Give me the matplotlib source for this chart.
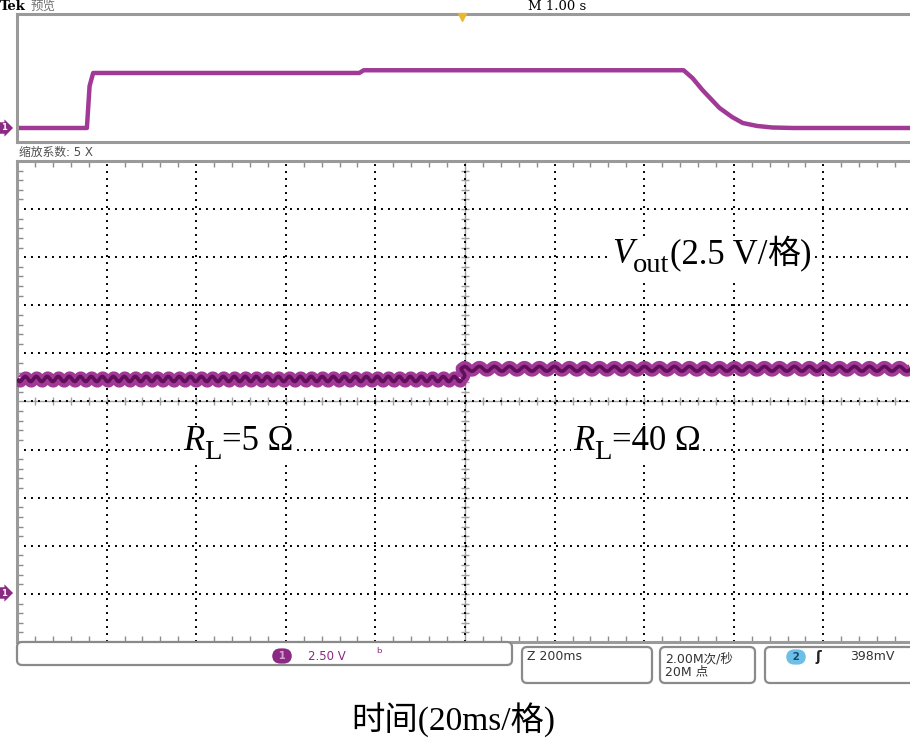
import numpy as np
import matplotlib
matplotlib.use('Agg')
import matplotlib.pyplot as plt
from matplotlib.patches import FancyBboxPatch, Rectangle
from matplotlib.ticker import MultipleLocator

W, H = 910, 749

# ---------------- data ----------------
# overview strip (M 1.00 s/div), volts
overview_t_s = [0.0, 0.78, 0.81, 0.85, 3.82, 3.87, 7.44, 7.54, 7.65, 7.84,
                7.98, 8.10, 8.26, 8.43, 8.66, 10.0]
overview_v = [0.0, 0.0, 8.5, 11.15, 11.15, 11.7, 11.7, 10.1, 7.7, 4.06,
              2.23, 1.01, 0.41, 0.1, 0.0, 0.0]
# zoomed window (20 ms/div), volts
zoom_left_t_ms = [0.0, 99.3]
zoom_left_v = [11.15, 11.15]
zoom_right_t_ms = [99.3, 99.6, 200.0]
zoom_right_v = [11.15, 11.7, 11.7]

volts_per_div = 2.5
ms_per_div = 20
s_per_div = 1.0
n_div = 10
center_v = 10.0

header_tek = 'Tek'
header_mode = '预览'
header_m = 'M 1.00 s'
zoom_factor = '缩放系数: 5 X'
ch1_scale = '2.50 V'
zoom_time = 'Z 200ms'
rate_text = '2.00M次/秒\n20M 点'
trig_text = '398mV'
xlabel = '时间(20ms/格)'

# ---------------- figure ----------------
fig = plt.figure(figsize=(W / 100, H / 100), dpi=100)

def rect(x0, y0, x1, y1):
    return [x0 / W, 1 - y1 / H, (x1 - x0) / W, (y1 - y0) / H]

GRID_C = '#8c8c8c'
TRACE_C = '#a13a96'
TRACE_DARK = '#620f5b'
SERIF = 'Liberation Serif'
CJK = 'Noto Sans CJK SC'
sans = ['DejaVu Sans', CJK]
serif = [SERIF, CJK]

# ---- overview strip ----
ax_top = fig.add_axes(rect(17, 14, 913, 142))
ax_top.set_xlim(0, n_div * s_per_div)
ax_top.set_ylim(-2.84, 23.1)
ax_top.plot(overview_t_s, overview_v, color=TRACE_C, lw=3.2,
            solid_joinstyle='round', solid_capstyle='butt')
for s in ['left', 'top', 'bottom']:
    ax_top.spines[s].set_color('#9a9a9a')
    ax_top.spines[s].set_linewidth(2.2)
ax_top.spines['right'].set_visible(False)
ax_top.set_xticks([])
ax_top.set_yticks([])
ax_top.plot([5.0 * s_per_div - 0.03], [22.4], marker='v', ms=6,
            color='#e8b830', clip_on=False, zorder=5)

# ---- main graticule ----
ax = fig.add_axes(rect(17, 161, 913, 642))
ax.set_xlim(0, n_div * ms_per_div)
ax.set_ylim(center_v - 5 * volts_per_div, center_v + 5 * volts_per_div)
ax.xaxis.set_major_locator(MultipleLocator(ms_per_div))
ax.yaxis.set_major_locator(MultipleLocator(volts_per_div))
ax.xaxis.set_minor_locator(MultipleLocator(ms_per_div / 5))
ax.yaxis.set_minor_locator(MultipleLocator(volts_per_div / 5))
ax.grid(True, which='major', color='black', lw=1.4, ls=(0, (1, 2.6)))
ax.tick_params(which='both', direction='in', labelleft=False,
               labelbottom=False, left=True, top=True, bottom=True,
               right=False, color=GRID_C)
ax.tick_params(which='major', length=0)
ax.tick_params(which='minor', length=4, width=1)
for s in ['left', 'top', 'bottom']:
    ax.spines[s].set_color('#9a9a9a')
    ax.spines[s].set_linewidth(2.2)
ax.spines['right'].set_visible(False)

# center cross with minor ticks
xc = n_div * ms_per_div / 2
ax.axhline(center_v, color='#a0a0a0', lw=1.0, zorder=1)
ax.axvline(xc, color='#a0a0a0', lw=1.0, zorder=1)
mx = np.arange(0, n_div * ms_per_div + 0.1, ms_per_div / 5)
my = np.arange(center_v - 5 * volts_per_div, center_v + 5 * volts_per_div + 0.01,
               volts_per_div / 5)
ax.plot(mx, np.full_like(mx, center_v), ls='', marker='|', ms=6,
        color='#a0a0a0', mew=1, zorder=1)
ax.plot(np.full_like(my, xc), my, ls='', marker='_', ms=6,
        color='#a0a0a0', mew=1, zorder=1)

# trace with ripple (sketch style)
for tt, vv, per, amp in [(zoom_left_t_ms, zoom_left_v, 11, 2.6),
                         (zoom_right_t_ms, zoom_right_v, 15, 2.4)]:
    l1, = ax.plot(tt, vv, color=TRACE_C, lw=8.0, zorder=3,
                  solid_capstyle='butt')
    l1.set_sketch_params(scale=amp, length=per, randomness=1.0)
    l2, = ax.plot(tt, vv, color=TRACE_DARK, lw=2.6, zorder=4,
                  solid_capstyle='butt')
    l2.set_sketch_params(scale=amp, length=per, randomness=1.0)

# ---- overlay in pixel coords ----
ov = fig.add_axes([0, 0, 1, 1], zorder=10)
ov.set_xlim(0, W)
ov.set_ylim(H, 0)
ov.axis('off')
ov.patch.set_alpha(0)

renderer = fig.canvas.get_renderer()


def rich(x, y, parts, size):
    """parts: (text, scale, style, dy, family)"""
    cur = x
    boxes = []
    for s, sc, style, dy, fam in parts:
        t = ov.text(cur, y + dy, s, fontsize=size * sc, style=style,
                    family=fam, ha='left', va='baseline', zorder=12)
        bb = t.get_window_extent(renderer=renderer)
        boxes.append(bb)
        cur += bb.width
    x0 = min(b.x0 for b in boxes)
    x1 = max(b.x1 for b in boxes)
    y0 = H - max(b.y1 for b in boxes)
    y1 = H - min(b.y0 for b in boxes)
    ov.add_patch(Rectangle((x0 - 2, y0), x1 - x0 + 4, y1 - y0, fc='white',
                           ec='none', zorder=11))


# header
ov.text(0, 6, header_tek, fontsize=9.5, fontweight='bold', ha='left',
        va='center', family='DejaVu Serif')
ov.text(31, 6, header_mode, fontsize=9, color='#707070', ha='left',
        va='center', family=sans)
ov.text(557, 6, header_m, fontsize=9.5, ha='center', va='center',
        family='DejaVu Serif')

# zoom factor band
ov.text(19, 152, zoom_factor, fontsize=8.5, color='#505050', ha='left',
        va='center', family=sans)

# ground markers
for yy in [128, 593]:
    ov.text(4, yy, '1', fontsize=6, color='white', ha='center', va='center',
            fontweight='bold',
            bbox=dict(boxstyle='rarrow,pad=0.15', fc='#8a2a82', ec='none'))

# annotations
FS = 25
rich(612, 263, [('V', 1, 'italic', 0, SERIF),
                ('out', 0.82, 'normal', 9, SERIF),
                ('(2.5 V/', 1, 'normal', 0, SERIF),
                ('格', 0.95, 'normal', 0, CJK),
                (')', 1, 'normal', 0, SERIF)], FS)
rich(183, 450, [('R', 1, 'italic', 0, SERIF),
                ('L', 0.82, 'normal', 9, SERIF),
                ('=5 Ω', 1, 'normal', 0, SERIF)], FS)
rich(573, 450, [('R', 1, 'italic', 0, SERIF),
                ('L', 0.82, 'normal', 9, SERIF),
                ('=40 Ω', 1, 'normal', 0, SERIF)], FS)

# status boxes
def box(x0, y0, x1, y1):
    p = FancyBboxPatch((x0, y0), x1 - x0, y1 - y0,
                       boxstyle='round,pad=0,rounding_size=5',
                       fc='white', ec='#8a8a8a', lw=1.6, zorder=1)
    ov.add_patch(p)

box(17, 642, 512, 665)
box(522, 647, 652, 683)
box(660, 647, 755, 683)
box(765, 647, 925, 683)

ov.text(282, 656, ' 1 ', fontsize=7.5, color='#d9a0d6', ha='center',
        va='center', fontweight='bold',
        bbox=dict(boxstyle='round,pad=0.25,rounding_size=0.8', fc='#8a2a82',
                  ec='none'))
ov.text(308, 656, ch1_scale, fontsize=8.5, color='#8a2a82', ha='left',
        va='center', family=sans)
ov.text(376, 654, 'ᵇ', fontsize=10, color='#8a2a82', ha='left',
        va='center', family=sans)
ov.text(527, 657, zoom_time, fontsize=9, color='#333333', ha='left',
        va='center', family=sans)
ov.text(665, 665, rate_text, fontsize=9, color='#333333', ha='left',
        va='center', family=sans, linespacing=1.0)
ov.text(796, 657, ' 2 ', fontsize=7.5, color='#1a4a70', ha='center',
        va='center', fontweight='bold',
        bbox=dict(boxstyle='round,pad=0.25,rounding_size=0.8', fc='#6cc0e6',
                  ec='none'))
ov.text(818, 657, 'ʃ', fontsize=10, color='#222222', ha='center',
        va='center', family=sans, fontweight='bold')
ov.text(850, 657, trig_text, fontsize=9, color='#333333', ha='left',
        va='center', family=sans)

# x label
ov.text(453, 720, xlabel, fontsize=24, family=serif, ha='center',
        va='center')

fig.savefig('out.png', dpi=100)
